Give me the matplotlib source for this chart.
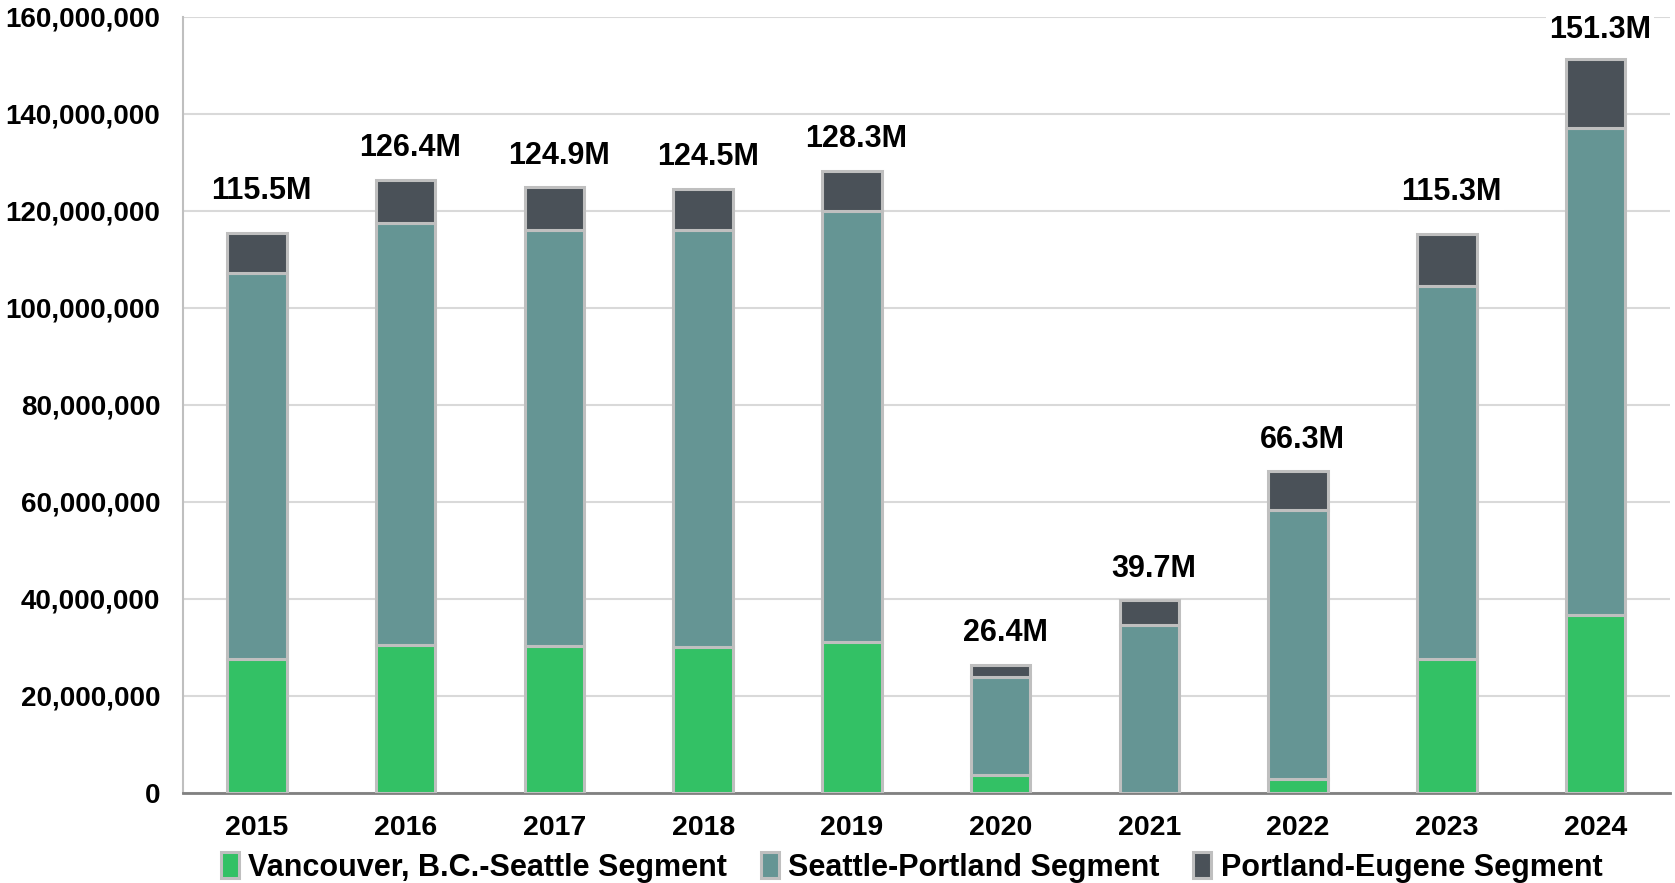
import matplotlib
matplotlib.use("Agg")
import matplotlib.pyplot as plt
from matplotlib.ticker import FuncFormatter

years = ["2015", "2016", "2017", "2018", "2019", "2020", "2021", "2022", "2023", "2024"]
vancouver_seattle = [27.6, 30.5, 30.2, 30.0, 31.1, 3.7, 0.0, 2.9, 27.6, 36.6]
seattle_portland = [79.5, 86.9, 85.9, 86.1, 88.8, 20.1, 34.7, 55.4, 77.0, 100.5]
portland_eugene = [8.4, 9.0, 8.8, 8.4, 8.4, 2.6, 5.0, 8.0, 10.7, 14.2]
totals = [115.5, 126.4, 124.9, 124.5, 128.3, 26.4, 39.7, 66.3, 115.3, 151.3]
# labels nudged higher for 2015 and 2023
label_offsets = [8.5, 6.5, 6.5, 6.5, 6.5, 6.5, 6.5, 6.5, 8.5, 6.0]

green = "#33C165"
teal = "#659594"
dark = "#4A5158"
edge = "#BFBFBF"

plt.rcParams["font.family"] = ["Liberation Sans", "DejaVu Sans"]
plt.rcParams["font.weight"] = "bold"

fig = plt.figure(figsize=(16.75, 8.83), dpi=100)
ax = fig.add_axes([0.109, 0.102, 0.888, 0.879])

x = list(range(len(years)))
M = 1_000_000
v1 = [v * M for v in vancouver_seattle]
v2 = [v * M for v in seattle_portland]
v3 = [v * M for v in portland_eugene]
b2 = v1
b3 = [a + b for a, b in zip(v1, v2)]

w = 0.40
kw = dict(width=w, edgecolor=edge, linewidth=2.2, zorder=3)
ax.bar(x, v1, color=green, label="Vancouver, B.C.-Seattle Segment", **kw)
ax.bar(x, v2, bottom=b2, color=teal, label="Seattle-Portland Segment", **kw)
ax.bar(x, v3, bottom=b3, color=dark, label="Portland-Eugene Segment", **kw)

for xi, t, off in zip(x, totals, label_offsets):
    ax.text(xi + 0.03, (t + off) * M, f"{t:.1f}M", ha="center", va="center",
            fontsize=22, fontweight="bold", zorder=5,
            bbox=dict(facecolor="white", edgecolor="none", pad=2))

ax.set_xlim(-0.5, 9.5)
ax.set_ylim(0, 160 * M)
ax.set_yticks([i * 20 * M for i in range(9)])
ax.yaxis.set_major_formatter(FuncFormatter(lambda v, p: f"{int(v):,}"))
ax.set_xticks(x)
ax.set_xticklabels(years)
ax.tick_params(axis="y", length=0, pad=16, labelsize=20)
ax.tick_params(axis="x", length=0, pad=16, labelsize=20.5)
for lab in ax.get_xticklabels() + ax.get_yticklabels():
    lab.set_fontweight("bold")

ax.grid(axis="y", color="#D9D9D9", linewidth=1.5, zorder=0)
ax.set_axisbelow(True)
for s in ["top", "right"]:
    ax.spines[s].set_visible(False)
ax.spines["left"].set_color("#BFBFBF")
ax.spines["left"].set_linewidth(1.5)
ax.spines["bottom"].set_color("#808080")
ax.spines["bottom"].set_linewidth(2)

leg = ax.legend(loc="center", bbox_to_anchor=(0.49, -0.096), ncol=3, frameon=False,
                prop={"size": 22, "weight": "bold"}, handlelength=0.6, handleheight=0.9,
                handletextpad=0.3, columnspacing=1.1, borderaxespad=0)

fig.savefig("out.png", dpi=100)
